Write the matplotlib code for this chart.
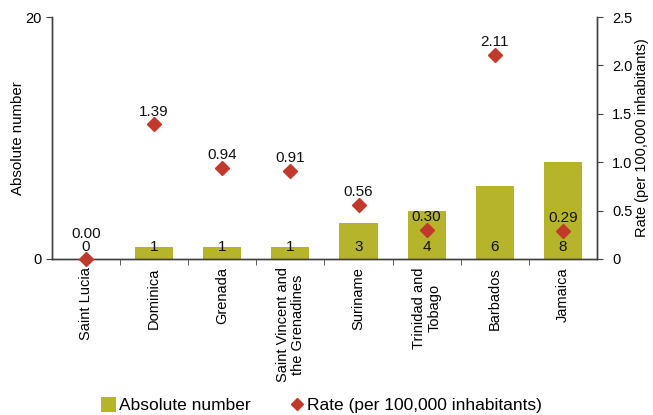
import matplotlib
matplotlib.use("Agg")
import matplotlib.pyplot as plt
import numpy as np
from matplotlib.lines import Line2D
from matplotlib.patches import Patch

plt.rcParams['font.family'] = ['Liberation Sans', 'DejaVu Sans']

countries = ["Saint Lucia", "Dominica", "Grenada", "Saint Vincent and\nthe Grenadines",
             "Suriname", "Trinidad and\nTobago", "Barbados", "Jamaica"]
absolute = [0, 1, 1, 1, 3, 4, 6, 8]
rates = [0.00, 1.39, 0.94, 0.91, 0.56, 0.30, 2.11, 0.29]

bar_color = '#b5b42a'
dia_color = '#c0392b'
axis_color = '#404040'

fig = plt.figure(figsize=(6.53, 4.15), dpi=100)
ax = fig.add_axes([0.0796, 0.376, 0.8345, 0.583])
ax2 = ax.twinx()

x = np.arange(len(countries))
ax.bar(x, absolute, width=0.56, color=bar_color, zorder=2)
ax.set_ylim(0, 20)
ax.set_xlim(-0.5, len(countries) - 0.5)
ax.set_yticks([0, 20])
ax.set_ylabel("Absolute number", fontsize=10.8, labelpad=0)

for xi, v in zip(x, absolute):
    ax.text(xi, 0.95, f"{v}", ha='center', va='center', fontsize=11, color='#111111', zorder=5)

ax2.plot(x, rates, linestyle='none', marker='D', markersize=7, color=dia_color, zorder=4, clip_on=False)
ax2.set_ylim(0, 2.5)
ax2.set_yticks([0, 0.5, 1.0, 1.5, 2.0, 2.5])
ax2.set_yticklabels(["0", "0.5", "1.0", "1.5", "2.0", "2.5"])
ax2.set_ylabel("Rate (per 100,000 inhabitants)", fontsize=10.5, labelpad=2)
for xi, r in zip(x, rates):
    off = 18 if r == 0 else 9
    ax2.annotate(f"{r:.2f}", (xi, r), xytext=(0, off), textcoords='offset points',
                 ha='center', va='center', fontsize=11, color='#111111')

ax.set_xticks(x)
ax.set_xticklabels(countries, rotation=90, fontsize=10.5, linespacing=1.15)
ax.tick_params(axis='x', length=0, pad=6)
ax.set_xticks(np.arange(0.5, len(countries) - 0.5, 1), minor=True)
ax.tick_params(axis='x', which='minor', length=4, color=axis_color, direction='out')

for a in (ax, ax2):
    a.spines['top'].set_visible(False)
    for s in ('left', 'right', 'bottom'):
        a.spines[s].set_color(axis_color)
        a.spines[s].set_linewidth(1.0)
ax.tick_params(axis='y', labelsize=10.5, length=4, color=axis_color)
ax2.tick_params(axis='y', labelsize=10.5, length=4, color=axis_color, pad=7)

handles = [Patch(facecolor=bar_color, edgecolor='none', label='Absolute number'),
           Line2D([], [], linestyle='none', marker='D', markersize=6, color=dia_color,
                  label='Rate (per 100,000 inhabitants)')]
fig.legend(handles=handles, loc='center', bbox_to_anchor=(0.492, 0.024), ncol=2,
           frameon=False, fontsize=12.5, handlelength=0.9, handletextpad=0.15,
           columnspacing=2.2, handleheight=1.0)

fig.savefig("out.png", dpi=100)
